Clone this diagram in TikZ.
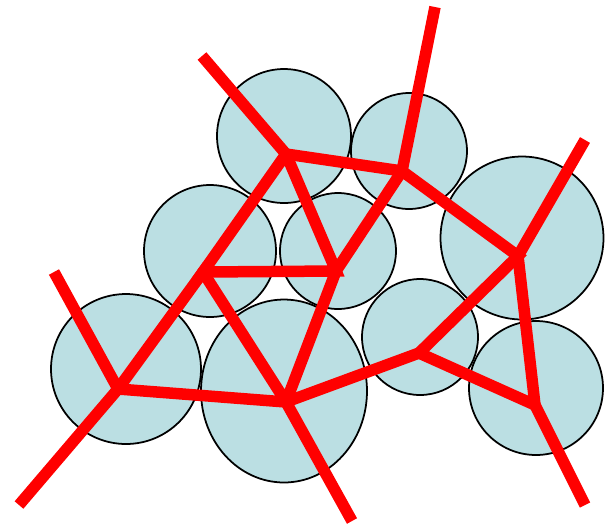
\documentclass[tikz,border=0pt]{standalone}
\usepackage{xcolor}
\definecolor{diskblue}{HTML}{BBDFE3}
\definecolor{edgered}{HTML}{FF0000}
\usepackage{tikz}
\usetikzlibrary{shapes.geometric}

\begin{document}
\begin{tikzpicture}[
  x=0.02cm, y=-0.02cm,
  disk/.style={circle,draw=black,fill=diskblue,line width=1pt,inner sep=0pt},
  oval/.style={ellipse,draw=black,fill=diskblue,line width=1pt,inner sep=0pt},
  edge/.style={draw=edgered,line width=0.23cm,line cap=butt,line join=miter},
  joint/.style={fill=edgered},
]
\useasboundingbox (0,0) rectangle (605,529);

% Disks
\node[disk,minimum size=2.68cm] (d1) at (284,136) {};
\node[disk,minimum size=2.32cm] (d2) at (409,151) {};
\node[disk,minimum size=3.26cm] (d3) at (522,238) {};
\node[disk,minimum size=2.64cm] (d4) at (210,251) {};
\node[disk,minimum size=2.32cm] (d5) at (338,251) {};
\node[disk,minimum size=3.00cm] (d6) at (126,369) {};
\node[oval,minimum width=3.32cm,minimum height=3.66cm] (d7) at (284,391) {};
\node[disk,minimum size=2.32cm] (d8) at (420,337) {};
\node[disk,minimum size=2.68cm] (d9) at (536,388) {};

% Vertices
\coordinate (va) at (286,154);
\coordinate (vb) at (402,171);
\coordinate (vc) at (336,271);
\coordinate (vd) at (203,272);
\coordinate (ve) at (118,389);
\coordinate (vf) at (286,402);
\coordinate (vg) at (419,353);
\coordinate (vh) at (518,256);
\coordinate (vi) at (535,405);

% Open ends
\coordinate (ea) at (202,56);
\coordinate (eb) at (435,7);
\coordinate (ee1) at (54,272);
\coordinate (ee2) at (19,505);
\coordinate (ef) at (352,521);
\coordinate (eh) at (585,140);
\coordinate (ei) at (585,505);

% Edges
\draw[edge] (ea) -- (va) -- (vb) -- (eb);
\draw[edge] (va) -- (vc) -- (vd) -- (va);
\draw[edge] (vb) -- (vc) -- (vf) -- (vd) -- (ve);
\draw[edge] (ee1) -- (ve) -- (ee2);
\draw[edge] (ve) -- (vf) -- (ef);
\draw[edge] (vf) -- (vg) -- (vh) -- (vb);
\draw[edge] (eh) -- (vh) -- (vi) -- (ei);
\draw[edge] (vg) -- (vi);

% Fill the joints
\foreach \v in {va,vb,vc,vd,ve,vf,vg,vh,vi}
  \fill[joint] (\v) circle (0.115cm);
\end{tikzpicture}
\end{document}
